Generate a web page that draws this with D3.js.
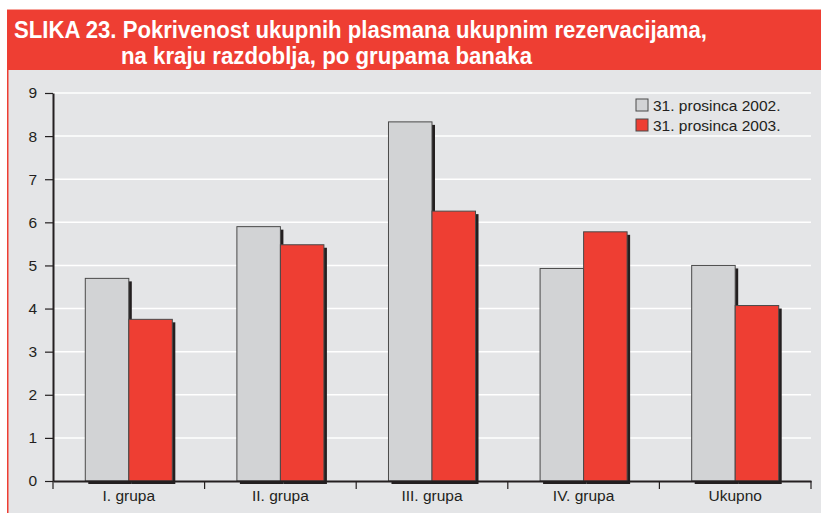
<!DOCTYPE html>
<html>
<head>
<meta charset="utf-8">
<script src="https://cdn.jsdelivr.net/npm/d3@7"></script>
<style>
  html, body { margin: 0; padding: 0; background: #ffffff; }
  svg { display: block; }
</style>
</head>
<body>
<svg id="chart" width="821" height="513"></svg>
<script>
// ---- data ----
const titleLines = ["SLIKA 23. Pokrivenost ukupnih plasmana ukupnim rezervacijama,", "na kraju razdoblja, po grupama banaka"];
const categories = ["I. grupa", "II. grupa", "III. grupa", "IV. grupa", "Ukupno"];
const seriesNames = ["31. prosinca 2002.", "31. prosinca 2003."];
const values2002 = [4.70, 5.90, 8.33, 4.93, 5.00];
const values2003 = [3.75, 5.48, 6.26, 5.78, 4.07];
const yTicks = [0, 1, 2, 3, 4, 5, 6, 7, 8, 9];
const seriesColors = ["#d2d3d5", "#ee3e33"];

(function () {
const svg = d3.select("#chart");
const W = 821, H = 513;

// frame
svg.append("rect").attr("x", 8).attr("y", 70).attr("width", W - 8).attr("height", H - 70).attr("fill", "#e4e5e7");
svg.append("rect").attr("x", 7).attr("y", 70).attr("width", 1.5).attr("height", H - 70).attr("fill", "#ee3e33");
svg.append("rect").attr("x", 7).attr("y", 9).attr("width", W - 7).attr("height", 61).attr("fill", "#ee3e33");
svg.append("rect").attr("x", 7).attr("y", 9).attr("width", W - 7).attr("height", 1).attr("fill", "#f6a49c");

// title
const tFont = "'Liberation Sans Narrow', 'Arial Narrow', 'Liberation Sans', Arial, sans-serif";
svg.append("text").attr("x", 14).attr("y", 38).attr("fill", "#fff")
  .attr("font-family", tFont).attr("font-weight", "bold").attr("font-size", 23)
  .attr("textLength", 693).attr("lengthAdjust", "spacingAndGlyphs").text(titleLines[0]);
svg.append("text").attr("x", 121).attr("y", 64).attr("fill", "#fff")
  .attr("font-family", tFont).attr("font-weight", "bold").attr("font-size", 23)
  .attr("textLength", 411).attr("lengthAdjust", "spacingAndGlyphs").text(titleLines[1]);

// scales
const mLeft = 53, mRight = 811, mTop = 93, mBottom = 481;
const x0 = d3.scaleBand().domain(categories).range([mLeft, mRight]).paddingInner(0).paddingOuter(0);
const x1 = d3.scaleBand().domain(seriesNames).range([0, x0.bandwidth()]).paddingInner(0).paddingOuter(0.742);
const y = d3.scaleLinear().domain([0, 9]).range([mBottom, mTop]);

const font = "'Liberation Sans', Arial, Helvetica, sans-serif";
const ink = "#231f20";
const fs = 15.5;

// gridlines
svg.append("g").selectAll("line").data(yTicks.filter(d => d > 0)).join("line")
  .attr("x1", mLeft).attr("x2", mRight).attr("y1", d => y(d)).attr("y2", d => y(d))
  .attr("stroke", "#ffffff").attr("stroke-width", 1.5);

// bars
const rows = categories.map((c, i) => ({ cat: c, vals: [values2002[i], values2003[i]] }));
const groups = svg.append("g").selectAll("g").data(rows).join("g")
  .attr("transform", d => `translate(${x0(d.cat)},0)`);
const items = d => d.vals.map((v, j) => ({ name: seriesNames[j], v, j }));
groups.selectAll("rect.sh").data(items).join("rect").attr("class", "sh")
  .attr("x", d => x1(d.name) + 3).attr("y", d => y(d.v) + 3)
  .attr("width", x1.bandwidth()).attr("height", d => mBottom - y(d.v))
  .attr("fill", ink);
groups.selectAll("rect.bar").data(items).join("rect").attr("class", "bar")
  .attr("x", d => x1(d.name)).attr("y", d => y(d.v))
  .attr("width", x1.bandwidth()).attr("height", d => mBottom - y(d.v))
  .attr("fill", d => seriesColors[d.j]).attr("stroke", "#4a4a4a").attr("stroke-width", 1);

// y axis
const yAxis = svg.append("g").attr("transform", `translate(${mLeft},0)`)
  .call(d3.axisLeft(y).tickValues(yTicks).tickSize(8).tickPadding(8).tickSizeOuter(0));
yAxis.select(".domain").attr("stroke", ink).attr("stroke-width", 2);
yAxis.selectAll(".tick line").attr("stroke", ink).attr("stroke-width", 1.2);
yAxis.selectAll(".tick text").attr("font-family", font).attr("font-size", fs).attr("fill", ink);

// x axis
const xAxis = svg.append("g").attr("transform", `translate(0,${mBottom})`)
  .call(d3.axisBottom(x0).tickSize(0).tickPadding(9));
xAxis.select(".domain").attr("stroke", ink).attr("stroke-width", 2);
xAxis.selectAll(".tick text").attr("font-family", font).attr("font-size", fs).attr("fill", ink);
const bounds = categories.map(c => x0(c)).concat([x0.range()[1]]);
xAxis.append("g").selectAll("line").data(bounds).join("line")
  .attr("x1", d => d).attr("x2", d => d).attr("y1", 0).attr("y2", 8)
  .attr("stroke", ink).attr("stroke-width", 1.2);

// legend
const lg = svg.append("g").selectAll("g").data(seriesNames).join("g")
  .attr("transform", (d, i) => `translate(636,${99 + i * 20})`);
lg.append("rect").attr("width", 12).attr("height", 12)
  .attr("fill", (d, i) => seriesColors[i]).attr("stroke", "#4a4a4a").attr("stroke-width", 1);
lg.append("text").attr("x", 17).attr("y", 11.5).attr("font-family", font).attr("font-size", fs)
  .attr("fill", ink).text(d => d);
})();
</script>
</body>
</html>
